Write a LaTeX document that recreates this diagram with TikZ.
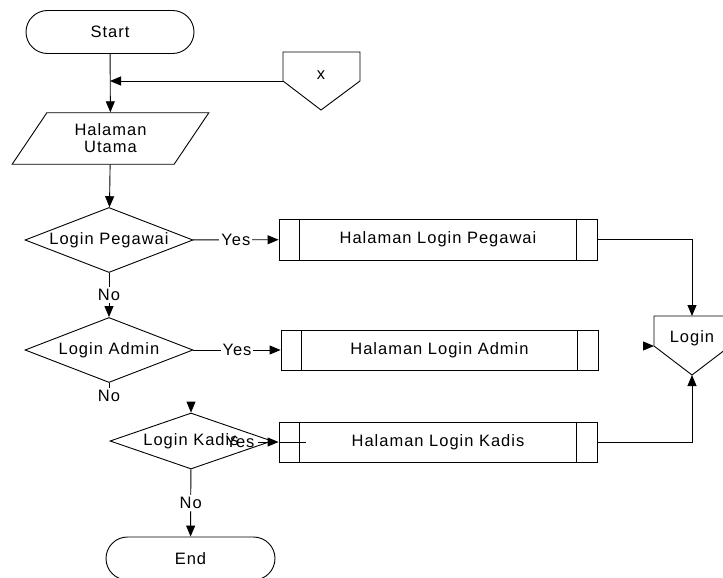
\documentclass[tikz,border=0pt]{standalone}
\usepackage{fontspec}
\setmainfont{Liberation Sans}[LetterSpace=6]
\usetikzlibrary{shapes.geometric,shapes.misc,arrows.meta}

\tikzset{
  every node/.style={font=\fontsize{16.5}{17}\selectfont},
  terminal/.style={draw, rounded rectangle, minimum width=168pt, minimum height=43pt, inner sep=0pt},
  io/.style={draw, trapezium, trapezium left angle=56, trapezium right angle=124,
    minimum width=197pt, minimum height=45pt, inner sep=0pt, align=center},
  decision/.style={draw, diamond, aspect=2.6, minimum width=168pt, minimum height=65pt, inner sep=0pt},
  subproc/.style={draw, minimum width=318pt, minimum height=41pt, inner sep=0pt,
    append after command={
      ([xshift=21pt]\tikzlastnode.north west) edge ([xshift=21pt]\tikzlastnode.south west)
      ([xshift=-21pt]\tikzlastnode.north east) edge ([xshift=-21pt]\tikzlastnode.south east)
    }},
  lbl/.style={fill=white, inner sep=2pt}
}

\begin{document}
\begin{tikzpicture}[x=1pt,y=-1pt, line width=0.9pt, >={Triangle[length=11pt,width=9pt]}]
\useasboundingbox (0,0) rectangle (723,578);
\clip (0,0) rectangle (723,578);

% Start
\node[terminal] (start) at (110,32) {Start};

% Halaman Utama
\node[io] (utama) at (110.5,138.5) {Halaman\\Utama};

% Konektor x
\node (x) at (321,75) {x};
\draw (283,52) -- (360,52) -- (360,81) -- (321,110) -- (283,81) -- cycle;
\coordinate (xkiri) at (283,81);
\coordinate (gabung) at (110,81);

% Keputusan
\node[decision] (pegawai) at (109,240) {Login Pegawai};
\node[decision] (admin) at (109,350) {Login Admin};
\node[decision, minimum width=162pt, minimum height=56pt, aspect=2.9] (kadis) at (191,441) {Login Kadis};

% Halaman login
\node[subproc] (hlp) at (438,239.5) {Halaman Login Pegawai};
\node[subproc, minimum width=317pt, minimum height=40pt] (hla) at (439.5,350) {Halaman Login Admin};
\node[subproc, minimum height=40pt] (hlk) at (438,442) {Halaman Login Kadis};

% End
\node[terminal, minimum width=169pt] (end) at (190.5,558.5) {End};

% Konektor Login
\node (login) at (692,338) {Login};
\draw (654,316) -- (730,316) -- (730,346) -- (692,375) -- (654,346) -- cycle;
\coordinate (logintop) at (692,316);
\coordinate (loginbawah) at (692,375);
\coordinate (loginkiri) at (654,346);

% Panah
\draw[->] (start) -- (utama);
\draw[->] (xkiri) -- (gabung);
\draw[->] (utama) -- (pegawai);
\draw[->] (pegawai) -- node[lbl] (yes1) {Yes} (hlp);
\draw[->] (pegawai) -- node[lbl] (no1) {No} (admin);
\draw[->] (admin) -- node[lbl] (yes2) {Yes} (hla);
\draw (admin.south) -- ++(0,5) node[below, inner sep=2pt] (no2) {No};
\draw[->] ([yshift=11pt]kadis.north) -- (kadis.north);
\node (yes3) at (240,442) {Yes};
\draw[->] (yes3) -- (hlk);
\draw (hlk.west) -- ++(27,0);
\draw[->] (kadis) -- node[lbl] (no3) {No} (end);
\draw[->] (hlp) -| (logintop);
\draw[->] (hlk) -| (loginbawah);
\draw[->] ([xshift=-11pt]loginkiri) -- (loginkiri);

\end{tikzpicture}
\end{document}
